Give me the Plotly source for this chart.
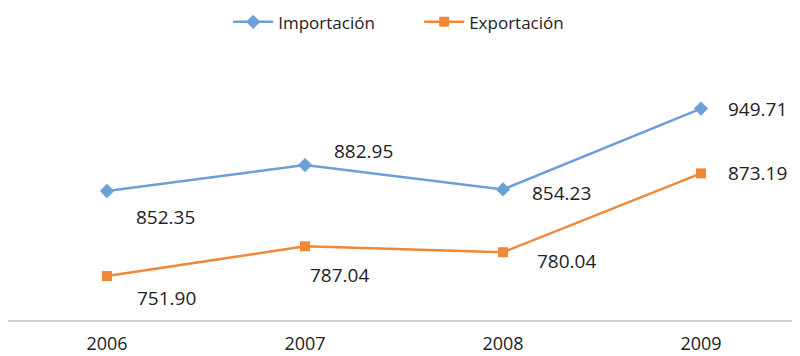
import plotly.graph_objects as go

years = ["2006", "2007", "2008", "2009"]
importacion = [852.35, 882.95, 854.23, 949.71]
exportacion = [751.90, 787.04, 780.04, 873.19]

imp_label_shift = [(58, -26), (58, 14), (58, -4), (56, 0)]
exp_label_shift = [(59, -22), (34, -29), (63, -9), (56, 0)]

blue = "#6A9FD8"
orange = "#F0883A"
font_family = "Open Sans"

fig = go.Figure()
fig.add_trace(go.Scatter(
    x=years, y=importacion, name="Importación", mode="lines+markers",
    line=dict(color=blue, width=2.5),
    marker=dict(symbol="diamond", size=11, color=blue),
))
fig.add_trace(go.Scatter(
    x=years, y=exportacion, name="Exportación", mode="lines+markers",
    line=dict(color=orange, width=2.5),
    marker=dict(symbol="square", size=10, color=orange),
))

for shifts, ys in [(imp_label_shift, importacion), (exp_label_shift, exportacion)]:
    for i in range(len(years)):
        dx, dy = shifts[i]
        fig.add_annotation(x=i, y=ys[i], xref="x", yref="y",
                           text="%.2f" % ys[i], showarrow=False,
                           xshift=dx, yshift=dy,
                           font=dict(size=19, color="#222222", family=font_family))

fig.update_layout(
    width=792, height=348,
    margin=dict(l=0, r=0, t=58, b=36, autoexpand=False),
    plot_bgcolor="white", paper_bgcolor="white",
    showlegend=True,
    legend=dict(orientation="h", x=0.278, xanchor="left", y=1.172, yanchor="middle",
                yref="paper", itemwidth=40, entrywidth=136, entrywidthmode="pixels",
                font=dict(size=17, color="#222222", family=font_family)),
    xaxis=dict(type="category", range=[-0.5, 3.5], showgrid=False, zeroline=False,
               showline=True, linecolor="#D0D0D0", linewidth=2,
               ticks="", ticklabelstandoff=6,
               tickfont=dict(size=18, color="#222222", family=font_family)),
    yaxis=dict(range=[700, 1000], visible=False, showgrid=False, zeroline=False),
)
fig.write_html("out.html")
